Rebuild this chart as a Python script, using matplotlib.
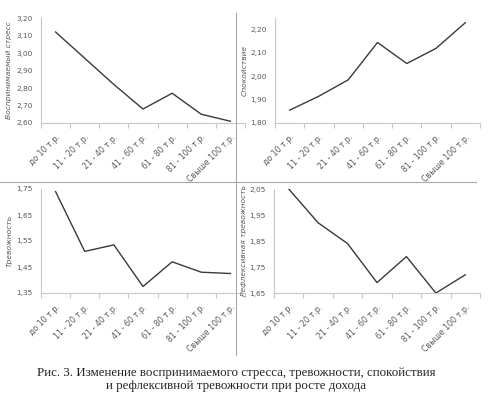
import numpy as np
import matplotlib
matplotlib.use("Agg")
import matplotlib.pyplot as plt
from matplotlib.lines import Line2D

# доход (категории)
categories = ["до 10 т.р.", "11 - 20 т.р.", "21 - 40 т.р.", "41 - 60 т.р.",
              "61 - 80 т.р.", "81 - 100 т.р.", "Свыше 100 т.р."]

stress = [3.12, 2.97, 2.82, 2.68, 2.77, 2.65, 2.61]
calm = [1.855, 1.915, 1.985, 2.145, 2.055, 2.12, 2.23]
anxiety = [1.74, 1.51, 1.535, 1.375, 1.47, 1.43, 1.425]
refl_anxiety = [2.05, 1.92, 1.84, 1.69, 1.79, 1.65, 1.72]

W, H = 492, 396
fig = plt.figure(figsize=(W / 100, H / 100), dpi=100)
fig.patch.set_facecolor("white")

AX_C = "#c8c8c8"
TXT_C = "#595959"
LINE_C = "#3a3a3a"


def rect(l, r, top, bot):
    return [l / W, 1 - bot / H, (r - l) / W, (bot - top) / H]


def panel(box, vals, ylabel, ylim, yticks, label_x):
    ax = fig.add_axes(rect(*box))
    x = np.arange(len(vals))
    ax.plot(x, vals, color=LINE_C, lw=1.0)
    ax.set_xlim(-0.5, len(vals) - 0.5)
    ax.set_ylim(*ylim)
    ax.set_yticks(yticks)
    ax.set_yticklabels([f"{v:.2f}".replace(".", ",") for v in yticks])
    ax.set_xticks(x)
    ax.set_xticklabels(categories, rotation=45, ha="right", rotation_mode="anchor")
    ax.set_xticks(np.arange(len(vals) + 1) - 0.5, minor=True)
    ax.tick_params(axis="x", which="major", length=0, pad=7, labelsize=5.7, labelcolor=TXT_C)
    ax.tick_params(axis="x", which="minor", length=3.5, color=AX_C, width=0.8)
    ax.tick_params(axis="y", length=0, pad=6, labelsize=5.3, labelcolor=TXT_C)
    for s in ["top", "right"]:
        ax.spines[s].set_visible(False)
    for s in ["left", "bottom"]:
        ax.spines[s].set_color(AX_C)
        ax.spines[s].set_linewidth(0.8)
    ax.set_ylabel(ylabel, fontsize=5.4, style="italic", color=TXT_C)
    l, r = box[0], box[1]
    ax.yaxis.set_label_coords((label_x - l) / (r - l), 0.5)
    ax.patch.set_alpha(0)
    return ax


panel((41, 245, 18, 123), stress, "Воспринимаемый стресс", (2.60, 3.20),
      [2.60, 2.70, 2.80, 2.90, 3.00, 3.10, 3.20], 12)
panel((275, 480, 18, 123), calm, "Спокойствие", (1.80, 2.25),
      [1.80, 1.90, 2.00, 2.10, 2.20], 248)
panel((41, 245, 189, 293), anxiety, "Тревожность", (1.35, 1.75),
      [1.35, 1.45, 1.55, 1.65, 1.75], 13)
panel((274, 480, 189, 293), refl_anxiety, "Рефлексивная тревожность", (1.65, 2.05),
      [1.65, 1.75, 1.85, 1.95, 2.05], 247)

# разделительные линии
fig.add_artist(Line2D([236 / W, 236 / W], [1 - 13 / H, 1 - 355 / H],
                      color="#a8a8a8", lw=0.8, transform=fig.transFigure))
fig.add_artist(Line2D([0, 476 / W], [1 - 182 / H, 1 - 182 / H],
                      color="#a8a8a8", lw=0.8, transform=fig.transFigure))

fig.text(236 / W, 1 - 373 / H,
         "Рис. 3. Изменение воспринимаемого стресса, тревожности, спокойствия",
         ha="center", va="center", fontsize=9.3, family="Liberation Serif", color="#222222")
fig.text(236 / W, 1 - 386 / H,
         "и рефлексивной тревожности при росте дохода",
         ha="center", va="center", fontsize=9.3, family="Liberation Serif", color="#222222")

fig.savefig("out.png", dpi=100)
